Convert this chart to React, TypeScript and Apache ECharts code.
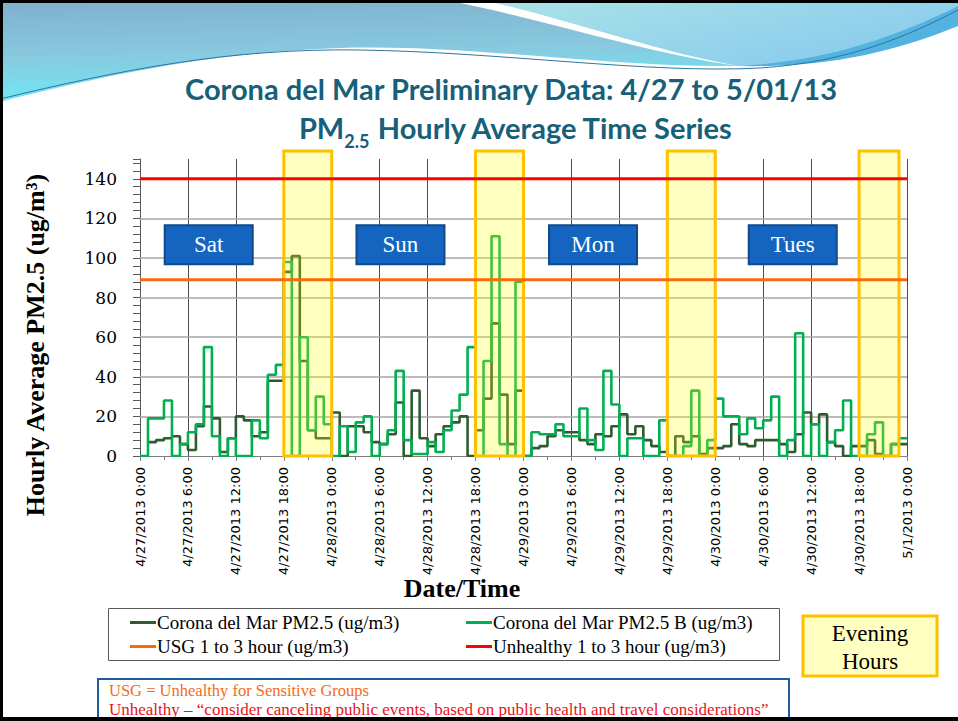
import React, { useEffect, useRef } from 'react';
import * as echarts from 'echarts';

// ---------- data ----------
const xTickLabels = [
  '4/27/2013 0:00', '4/27/2013 6:00', '4/27/2013 12:00', '4/27/2013 18:00',
  '4/28/2013 0:00', '4/28/2013 6:00', '4/28/2013 12:00', '4/28/2013 18:00',
  '4/29/2013 0:00', '4/29/2013 6:00', '4/29/2013 12:00', '4/29/2013 18:00',
  '4/30/2013 0:00', '4/30/2013 6:00', '4/30/2013 12:00', '4/30/2013 18:00',
  '5/1/2013 0:00',
];
const yTicks = [0, 20, 40, 60, 80, 100, 120, 140];

// hourly values, hour 0 = 4/27/2013 0:00
const pmA: (number | null)[] = [
  null, 7, 8, 9, 10, 6, 3, 15, 25, 19, 2, 9, 20, 18, 10, 12, 38, 38, 93, 101, 48, 13, 9, 9,
  22, 0, 15, 15, 12, 7, 6, 11, 27, 0, 33, 9, 5, 11, 15, 17, 20, 0, 13, 29, 67, 31, 6, 33,
  0, 4, 5, 10, 13, 12, 12, 8, 6, 11, 10, 15, 21, 11, 15, 8, 5, 2, 0, 10, 7, 10, 1, 4,
  4, 5, 16, 6, 5, 8, 8, 8, 6, 2, 11, 22, 16, 21, 7, 5, 0, 5, 5, 8, 1, 0, 6, 6,
];
const pmB: number[] = [
  0, 19, 19, 28, 0, 6, 12, 16, 55, 10, 0, 9, 0, 0, 18, 9, 41, 46, 98, 0, 60, 13, 30, 16,
  0, 15, 2, 17, 20, 0, 6, 13, 43, 8, 1, 1, 7, 2, 13, 23, 31, 55, 0, 48, 111, 6, 0, 88,
  0, 12, 11, 11, 16, 10, 10, 24, 8, 3, 43, 26, 0, 9, 9, 0, 0, 18, 0, 0, 5, 33, 0, 8,
  29, 20, 20, 11, 19, 14, 18, 30, 0, 8, 62, 0, 16, 0, 7, 13, 28, 0, 0, 11, 17, 0, 6, 9,
];
const usgLevel = 89;
const unhealthyLevel = 140;
const eveningWindows = [[18, 24], [42, 48], [66, 72], [90, 95]];
const eveningTop = 154;
const dayLabels = ['Sat', 'Sun', 'Mon', 'Tues'];
const dayCenters = [8.6, 32.6, 56.7, 81.7];
const dayLevel = 106.7;
const seriesNames = [
  'Corona del Mar PM2.5 (ug/m3)',
  'Corona del Mar PM2.5 B (ug/m3)',
  'USG 1 to 3 hour (ug/m3)',
  'Unhealthy 1 to 3 hour (ug/m3)',
];
const hourMax = 96;

// ---------- decoration shapes ----------
const WAVE_LEFT = 'M0 0 L445 0 C540 18 640 52 738 66 C610 68 470 44 340 48 C210 52 95 78 0 102 Z';
const WAVE_RIGHT = 'M482 0 L958 0 L958 14 C900 40 840 62 738 66 C650 50 565 18 482 0 Z';
const WAVE_BAND = 'M738 66 C820 62 890 40 958 6 L958 26 C890 54 820 68 738 66 Z';
const WAVE_LINE = 'M0 99 C120 70 230 48 360 50 C500 52 650 74 760 68 C850 62 910 35 958 10';
echarts.graphic.registerShape('waveLeft', echarts.graphic.extendPath(WAVE_LEFT, {}));
echarts.graphic.registerShape('waveRight', echarts.graphic.extendPath(WAVE_RIGHT, {}));
echarts.graphic.registerShape('waveBand', echarts.graphic.extendPath(WAVE_BAND, {}));
echarts.graphic.registerShape('waveLine', echarts.graphic.extendPath(WAVE_LINE, {}));

const stepData = (vals: (number | null)[]) => {
  const d: (number | null)[][] = vals.map((v, i) => [i, v]);
  d.push([hourMax, vals[vals.length - 1]]);
  return d;
};

export default function App() {
  const ref = useRef<HTMLDivElement>(null);
  useEffect(() => {
    if (!ref.current) return;
    const chart = echarts.init(ref.current, undefined, { renderer: 'svg' });
    const serif = 'Liberation Serif';
    const option: any = {
      animation: false,
      backgroundColor: '#ffffff',
      grid: { left: 140, top: 159, right: 51, bottom: 265 },
      xAxis: {
        type: 'value', min: 0, max: hourMax, interval: 6,
        axisLine: { show: true, lineStyle: { color: '#7f7f7f', width: 1 } },
        axisTick: { show: true, length: 5, lineStyle: { color: '#7f7f7f' } },
        minorTick: { show: true, splitNumber: 2, length: 4, lineStyle: { color: '#7f7f7f' } },
        splitLine: { show: true, lineStyle: { color: '#4d4d4d', width: 1 } },
        axisLabel: {
          rotate: 90, margin: 11, fontFamily: 'DejaVu Sans', fontSize: 13, color: '#000',
          formatter: (v: number) => xTickLabels[Math.round(v / 6)] ?? '',
        },
      },
      yAxis: {
        type: 'value', min: 0, max: 150, interval: 20,
        axisLine: { show: true, lineStyle: { color: '#595959', width: 1 } },
        axisTick: { show: true, length: 7, lineStyle: { color: '#595959' } },
        minorTick: { show: true, splitNumber: 5, length: 7, lineStyle: { color: '#595959' } },
        splitLine: { show: false },
        axisLabel: {
          showMaxLabel: false, margin: 23, fontFamily: 'DejaVu Serif', fontSize: 17, color: '#000',
          formatter: (v: number) => (yTicks.includes(v) ? String(v) : ''),
        },
      },
      legend: seriesNames.map((n, i) => ({
        data: [n],
        left: i % 2 === 0 ? 130 : 466,
        top: i < 2 ? 613 : 637,
        icon: 'rect', itemWidth: 26, itemHeight: 3, padding: 0, selectedMode: false,
        textStyle: { fontFamily: serif, fontSize: 19, color: '#000', padding: [0, 0, 0, -4] },
      })),
      series: [
        {
          name: 'grid-lines', type: 'line', data: [], z: 1, silent: true,
          markLine: {
            silent: true, symbol: 'none', label: { show: false }, z: 1,
            lineStyle: { color: '#a6a6a6', width: 1.5, type: 'solid' },
            data: yTicks.filter((v) => v > 0 && v < unhealthyLevel).map((v) => ({ yAxis: v })),
          },
        },
        {
          name: seriesNames[0], type: 'line', step: 'end', data: stepData(pmA), z: 2,
          showSymbol: false, symbol: 'none', color: '#2e5b30',
          lineStyle: { color: '#2e5b30', width: 2.6 },
        },
        {
          name: seriesNames[1], type: 'line', step: 'end', data: stepData(pmB), z: 2,
          showSymbol: false, symbol: 'none', color: '#00b050',
          lineStyle: { color: '#00b050', width: 2.6 },
        },
        {
          name: 'evening', type: 'custom', z: 3, silent: true, clip: false,
          data: eveningWindows,
          renderItem: (params: any, api: any) => {
            const p0 = api.coord([api.value(0), eveningTop]);
            const p1 = api.coord([api.value(1), 0]);
            return {
              type: 'rect',
              shape: { x: p0[0], y: p0[1], width: p1[0] - p0[0], height: p1[1] - p0[1] },
              style: { fill: 'rgba(255,255,0,0.25)', stroke: '#ffc000', lineWidth: 3 },
            };
          },
        },
        {
          name: seriesNames[2], type: 'line', data: [[0, usgLevel], [hourMax, usgLevel]], z: 4,
          showSymbol: false, symbol: 'none', color: '#fa6a0c',
          lineStyle: { color: '#fa6a0c', width: 3 },
        },
        {
          name: seriesNames[3], type: 'line', data: [[0, unhealthyLevel], [hourMax, unhealthyLevel]], z: 4,
          showSymbol: false, symbol: 'none', color: '#ff0000',
          lineStyle: { color: '#ff0000', width: 3 },
        },
        {
          name: 'days', type: 'custom', z: 5, silent: true, clip: false,
          data: dayCenters.map((h) => [h, dayLevel]),
          renderItem: (params: any, api: any) => {
            const c = api.coord([api.value(0), api.value(1)]);
            return {
              type: 'group',
              children: [
                {
                  type: 'rect',
                  shape: { x: c[0] - 44, y: c[1] - 19.5, width: 88, height: 39 },
                  style: { fill: '#1565c0', stroke: '#0c4a8c', lineWidth: 2 },
                },
                {
                  type: 'text', x: c[0], y: c[1],
                  style: {
                    text: dayLabels[params.dataIndex], fill: '#ffffff', align: 'center', verticalAlign: 'middle',
                    fontFamily: serif, fontSize: 23,
                  },
                },
              ],
            };
          },
        },
      ],
      graphic: [
        {
          type: 'waveLeft', x: 0, y: 0, z: 0, silent: true,
          style: {
            fill: { type: 'linear', x: 0, y: 0, x2: 0.15, y2: 1, colorStops: [
              { offset: 0, color: '#7fb0cc' }, { offset: 0.55, color: '#88c9de' }, { offset: 1, color: '#6fe9f6' },
            ] },
          },
        },
        {
          type: 'waveRight', x: 0, y: 0, z: 0, silent: true,
          style: {
            fill: { type: 'linear', x: 0, y: 0, x2: 1, y2: 0.6, colorStops: [
              { offset: 0, color: '#abe3e6' }, { offset: 1, color: '#8acbee' },
            ] },
          },
        },
        { type: 'waveBand', x: 0, y: 0, z: 0, silent: true, style: { fill: '#52b3df' } },
        { type: 'waveLine', x: 0, y: 0, z: 0, silent: true, style: { fill: null, stroke: '#2f74a6', lineWidth: 1 } },
        { type: 'rect', z: 1, silent: true, shape: { x: 0, y: 0, width: 958, height: 3 }, style: { fill: '#000' } },
        { type: 'rect', z: 1, silent: true, shape: { x: 0, y: 0, width: 3, height: 721 }, style: { fill: '#000' } },
        {
          type: 'text', x: 511, y: 88, z: 2, silent: true,
          style: {
            text: 'Corona del Mar Preliminary Data: 4/27 to 5/01/13', align: 'center', verticalAlign: 'middle',
            fontFamily: 'Lato', fontWeight: 'bold', fontSize: 29, fill: '#17607a',
          },
        },
        {
          type: 'text', x: 516, y: 127, z: 2, silent: true,
          style: {
            text: '{a|PM}{s|2.5}{a| Hourly Average Time Series}', align: 'center', verticalAlign: 'middle',
            rich: {
              a: { fontFamily: 'Lato', fontWeight: 'bold', fontSize: 29, fill: '#17607a', color: '#17607a', lineHeight: 46, verticalAlign: 'middle' },
              s: { fontFamily: 'Lato', fontWeight: 'bold', fontSize: 18, fill: '#17607a', color: '#17607a', lineHeight: 24, verticalAlign: 'bottom' },
            },
          },
        },
        {
          type: 'text', x: 35, y: 345, rotation: Math.PI / 2, z: 2, silent: true,
          style: {
            text: 'Hourly Average PM2.5 (ug/m³)', align: 'center', verticalAlign: 'middle',
            fontFamily: serif, fontWeight: 'bold', fontSize: 26, fill: '#000',
          },
        },
        {
          type: 'text', x: 462, y: 588, z: 2, silent: true,
          style: {
            text: 'Date/Time', align: 'center', verticalAlign: 'middle',
            fontFamily: serif, fontWeight: 'bold', fontSize: 26, fill: '#000',
          },
        },
        {
          type: 'rect', z: 0, silent: true,
          shape: { x: 108.5, y: 608.5, width: 671, height: 52 },
          style: { fill: '#ffffff', stroke: '#595959', lineWidth: 1 },
        },
        {
          type: 'rect', z: 0, silent: true,
          shape: { x: 803, y: 616, width: 134, height: 60 },
          style: { fill: '#ffffc0', stroke: '#ffc000', lineWidth: 3 },
        },
        {
          type: 'text', x: 870, y: 647, z: 2, silent: true,
          style: {
            text: 'Evening\nHours', align: 'center', verticalAlign: 'middle', lineHeight: 28,
            fontFamily: serif, fontSize: 23, fill: '#000',
          },
        },
        {
          type: 'rect', z: 0, silent: true,
          shape: { x: 98, y: 679, width: 691, height: 60 },
          style: { fill: '#ffffff', stroke: '#1f5c9e', lineWidth: 2 },
        },
        {
          type: 'text', x: 109, y: 690, z: 2, silent: true,
          style: {
            text: 'USG = Unhealthy for Sensitive Groups', align: 'left', verticalAlign: 'middle',
            fontFamily: serif, fontSize: 16.5, fill: '#f26b21',
          },
        },
        {
          type: 'text', x: 109, y: 709, z: 2, silent: true,
          style: {
            text: 'Unhealthy \u2013 \u201cconsider canceling public events, based on public health and travel considerations\u201d',
            align: 'left', verticalAlign: 'middle',
            fontFamily: serif, fontSize: 17, fill: '#e8131b',
          },
        },
        { type: 'rect', z: 3, silent: true, shape: { x: 0, y: 717, width: 958, height: 4 }, style: { fill: '#000' } },
      ],
    };
    chart.setOption(option);
    return () => chart.dispose();
  }, []);
  return <div ref={ref} style={{ position: 'absolute', left: 0, top: 0, width: 958, height: 721 }} />;
}
